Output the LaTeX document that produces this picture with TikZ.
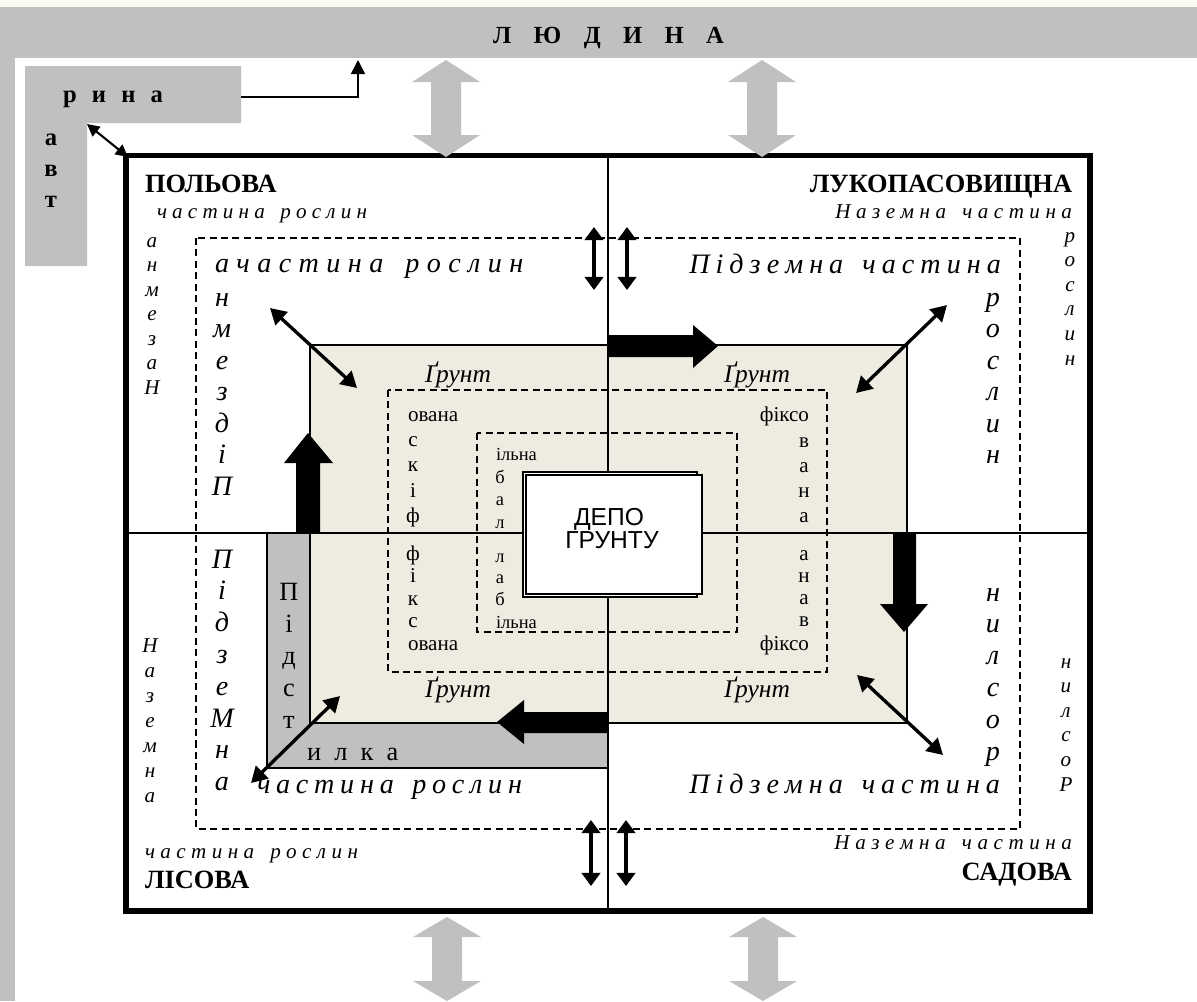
\documentclass[tikz,border=0pt]{standalone}
\usepackage{fontspec}
\setmainfont{Liberation Serif}
\newfontfamily\sansf{Liberation Sans}
\usetikzlibrary{arrows.meta}
\definecolor{band}{HTML}{C0C0C0}
\definecolor{soil}{HTML}{EEECE1}
\definecolor{pale}{HTML}{F9FBF0}
\newdimen\pxu \pxu=0.02cm
\makeatletter
\newdimen\fs@w \newcount\fs@n
\newcommand\fitsp[2]{%
  \setbox0\hbox{#2}%
  \fs@n=\m@ne
  \@tfor\fs@t:=#2\do{\advance\fs@n\@ne}%
  \fs@w=#1\pxu \advance\fs@w-\wd0
  \divide\fs@w\fs@n
  \@tfor\fs@t:=#2\do{\fs@t\kern\fs@w}\kern-\fs@w}
\makeatother
\newcommand\vstack[6]{%
  \foreach \l [count=\i] in {#6} \node[#2] (#1\i) at (#3,{#4+(\i-1)*#5}) {\l};}
\newcommand\garrow[5]{%
  \fill[band] (#2,#3) -- ++(34,#5) -- ++(-19,0) -- (#2+15,#4-#5) -- ++(19,0)
   -- (#2,#4) -- ++(-34,-#5) -- ++(19,0) -- (#2-15,#3+#5) -- ++(-19,0) -- cycle;
  \coordinate (#1) at (#2,{(#3+#4)/2});}
\tikzset{
 txt/.style={inner sep=0pt, outer sep=0pt, anchor=base},
 ttl/.style={txt, font=\fontsize{15}{18}\selectfont\bfseries},
 sit/.style={txt, font=\fontsize{12}{14}\selectfont\itshape},
 lit/.style={txt, font=\fontsize{16}{19}\selectfont\itshape},
 upr/.style={txt, font=\fontsize{12}{14}\selectfont},
 sml/.style={txt, font=\fontsize{10.5}{12}\selectfont},
 grn/.style={txt, font=\fontsize{14.5}{17}\selectfont\itshape},
 pds/.style={txt, font=\fontsize{15}{18}\selectfont},
 bld/.style={txt, font=\fontsize{14}{16}\selectfont\bfseries},
 dep/.style={txt, font=\fontsize{14}{16}\selectfont\sansf},
 dsh/.style={draw, line width=0.85pt, dash pattern=on 4pt off 2.5pt},
 thinarr/.style={line width=1.9pt, {Triangle[width=10pt,length=9pt]}-{Triangle[width=10pt,length=9pt]}},
 vertarr/.style={line width=2.2pt, {Triangle[width=10.5pt,length=7.5pt]}-{Triangle[width=10.5pt,length=7.5pt]}},
}
\begin{document}
\begin{tikzpicture}[x=0.02cm,y=-0.02cm]
\useasboundingbox (0,0) rectangle (1197,1001);
\fill[white] (0,0) rectangle (1197,1001);
\fill[pale] (0,0) rectangle (1197,7);
% grey frame: ЛЮДИНА band and left strip
\fill[band] (0,7) rectangle (1197,58);
\fill[band] (0,58) rectangle (15,1001);
\node[bld, anchor=base west] (ludyna) at (493,43) {\fitsp{229}{ЛЮДИНА}};
% рина / авт box
\fill[band] (25,66) -| (241,123) -| (87,266) -| cycle;
\node[bld, anchor=base west] (rina) at (63,102) {\fitsp{100}{рина}};
\vstack{avt}{bld}{51}{145}{31}{а,в,т}
% soil layers
\filldraw[fill=band, draw=black, line width=0.8pt] (267,533) rectangle (608,768);
\filldraw[fill=soil, draw=black, line width=0.8pt] (310,345) rectangle (907,723);
% dividers
\draw[line width=1.1pt] (608,155) -- (608,911);
\draw[line width=1.1pt] (126,533) -- (1090,533);
% dashed frames
\draw[dsh] (196,238) rectangle (1020,829);
\draw[dsh] (388,390) rectangle (827,672);
\draw[dsh] (477,433) rectangle (737,632);
% depot box
\filldraw[fill=white, draw=black, line width=0.6pt] (523,472) rectangle (697,597);
\filldraw[fill=white, draw=black, line width=1.6pt] (526,475) rectangle (702,594);
\node[dep] (depo1) at (609,525) {ДЕПО};
\node[dep] (depo2) at (612,548) {ГРУНТУ};
% black block arrows
\fill[black] (296,533) -- (296,463) -- (284,463) -- (308,433) -- (333,463) -- (320,463) -- (320,533) -- cycle;
\fill[black] (608,335) -- (693,335) -- (693,325) -- (718,346) -- (693,368) -- (693,357) -- (608,357) -- cycle;
\fill[black] (893,533) -- (893,604) -- (880,604) -- (904,632) -- (928,604) -- (916,604) -- (916,533) -- cycle;
\fill[black] (608,712) -- (524,712) -- (524,700) -- (497,722) -- (524,744) -- (524,733) -- (608,733) -- cycle;
% thin double arrows
\coordinate (ul1) at (270,308); \coordinate (ul2) at (357,388);
\coordinate (ur1) at (947,305); \coordinate (ur2) at (856,393);
\coordinate (lr1) at (857,675); \coordinate (lr2) at (943,755);
\coordinate (ll1) at (340,696); \coordinate (ll2) at (251,783);
\draw[thinarr] (ul1) -- (ul2);
\draw[thinarr] (ur1) -- (ur2);
\draw[thinarr] (lr1) -- (lr2);
\draw[thinarr] (ll1) -- (ll2);
\coordinate (t1a) at (594,227); \coordinate (t1b) at (594,290);
\coordinate (t2a) at (627,227); \coordinate (t2b) at (627,290);
\coordinate (b1a) at (591,820); \coordinate (b1b) at (591,886);
\coordinate (b2a) at (626,820); \coordinate (b2b) at (626,886);
\draw[vertarr] (t1a) -- (t1b);
\draw[vertarr] (t2a) -- (t2b);
\draw[vertarr] (b1a) -- (b1b);
\draw[vertarr] (b2a) -- (b2b);
% main frame
\draw[line width=3pt] (126,155.5) rectangle (1090,911);
% connectors of the рина box
\coordinate (rinaE) at (241,97); \coordinate (bandP) at (358,60);
\draw[line width=1pt, -{Triangle[width=8pt,length=8pt]}] (rinaE) -| (bandP);
\coordinate (rinaC) at (87,124); \coordinate (frameC) at (128,157);
\draw[line width=1.2pt, {Triangle[width=7pt,length=7pt]}-{Triangle[width=7pt,length=7pt]}] (rinaC) -- (frameC);
% grey double arrows
\garrow{g1}{446}{60}{157}{22}
\garrow{g2}{762}{60}{157}{22}
\garrow{g3}{447}{917}{1001}{20}
\garrow{g4}{763}{917}{1001}{20}
% titles
\node[ttl, anchor=base west] (pol) at (145,192) {ПОЛЬОВА};
\node[ttl, anchor=base east] (luk) at (1072,192) {ЛУКОПАСОВИЩНА};
\node[ttl, anchor=base east] (sad) at (1072,880) {САДОВА};
\node[ttl, anchor=base west] (lis) at (145,888) {ЛІСОВА};
% small italic lines
\node[sit, anchor=base west] (s1) at (157,218) {\fitsp{210}{частина~рослин}};
\node[sit, anchor=base east] (s2) at (1072,218) {\fitsp{236}{Наземна~частина}};
\node[sit, anchor=base east] (s3) at (1072,849) {\fitsp{237}{Наземна~частина}};
\node[sit, anchor=base west] (s4) at (145,858) {\fitsp{213}{частина~рослин}};
\vstack{sv1}{sit}{152}{247}{24.5}{а,н,м,е,з,а,Н}
\vstack{sv2}{sit}{1070}{242}{24.6}{р,о,с,л,и,н}
\vstack{sv3}{sit}{1066}{668}{24.6}{н,и,л,с,о,Р}
\vstack{sv4}{sit}{150}{652}{25}{Н,а,з,е,м,н,а}
% large italic lines
\node[lit, anchor=base west] (l1) at (215,272) {\fitsp{308}{ачастина~рослин}};
\node[lit, anchor=base east] (l2) at (1001,273) {\fitsp{311}{Підземна~частина}};
\node[lit, anchor=base east] (l3) at (1000,793) {\fitsp{310}{Підземна~частина}};
\node[lit, anchor=base west] (l4) at (257,793) {\fitsp{265}{частина~рослин}};
\vstack{lv1}{lit}{222}{306}{31.5}{н,м,е,з,д,і,П}
\vstack{lv2}{lit}{993}{306}{31.5}{р,о,с,л,и,н}
\vstack{lv3}{lit}{993}{601}{31.8}{н,и,л,с,о,р}
\vstack{lv4}{lit}{222}{568}{31.8}{П,і,д,з,е,М,н,а}
% Ґрунт
\node[grn] (g_ul) at (458,382) {Ґрунт};
\node[grn] (g_ur) at (757,382) {Ґрунт};
\node[grn] (g_ll) at (458,697) {Ґрунт};
\node[grn] (g_lr) at (757,697) {Ґрунт};
% Підстилка
\vstack{pv}{pds}{289}{600}{32}{П,і,д,с,т}
\node[pds, anchor=base west] (ilka) at (307,760) {\fitsp{91}{илка}};
% fixed soil words
\node[upr, anchor=base west] (f1) at (408,421) {ована};
\vstack{fv1}{upr}{413}{446}{25.5}{с,к,і,ф}
\vstack{fv2}{upr}{413}{560}{22.5}{ф,і,к,с}
\node[upr, anchor=base west] (f2) at (408,650) {ована};
\node[upr, anchor=base east] (f3) at (809,421) {фіксо};
\vstack{fv3}{upr}{804}{447}{25.3}{в,а,н,а}
\vstack{fv4}{upr}{804}{560}{22.3}{а,н,а,в}
\node[upr, anchor=base east] (f4) at (809,650) {фіксо};
% labile soil words
\node[sml, anchor=base west] (i1) at (496,460) {ільна};
\vstack{iv1}{sml}{500}{483}{22.5}{б,а,л}
\vstack{iv2}{sml}{500}{562}{21.5}{л,а,б}
\node[sml, anchor=base west] (i2) at (496,628) {ільна};
\end{tikzpicture}
\end{document}
